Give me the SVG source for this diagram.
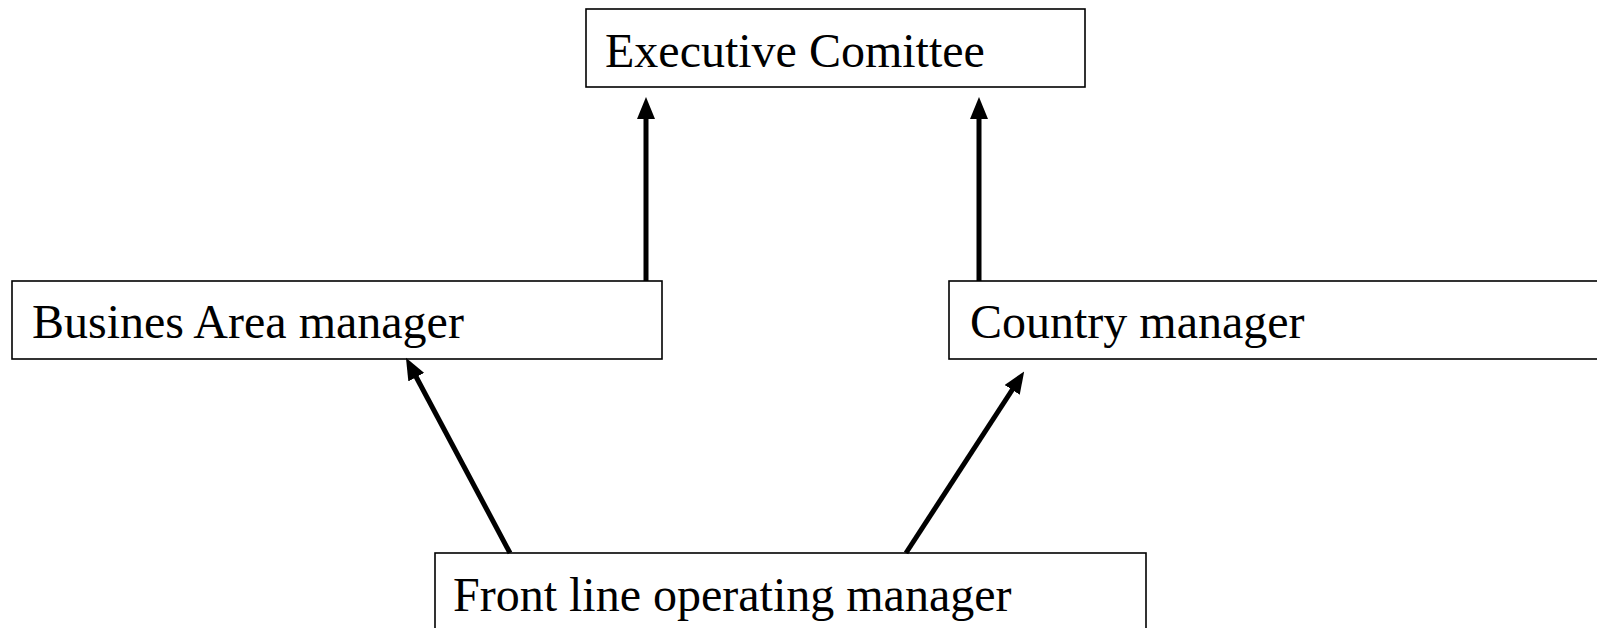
<svg xmlns="http://www.w3.org/2000/svg" width="1597" height="628" viewBox="0 0 1597 628">
<style>
.box{fill:#fff;stroke:#000;stroke-width:1.6}
.lbl{font-family:"Liberation Serif","Times New Roman",serif;font-size:48px;fill:#000}
.conn{stroke:#000;stroke-width:5;fill:none;marker-end:url(#arr)}
</style>
<defs>
<marker id="arr" markerUnits="userSpaceOnUse" markerWidth="22" markerHeight="18" refX="7" refY="9" orient="auto">
<path d="M0,0 L22,9 L0,18 z" fill="#000"/>
</marker>
</defs>
<rect width="1597" height="628" fill="#fff"/>
<g id="exec"><rect class="box" x="586" y="9" width="499" height="78"/><text class="lbl" x="605" y="67">Executive Comittee</text></g>
<g id="business"><rect class="box" x="12" y="281" width="650" height="78"/><text class="lbl" x="32" y="338">Busines Area manager</text></g>
<g id="country"><rect class="box" x="949" y="281" width="661" height="78"/><text class="lbl" x="970" y="338">Country manager</text></g>
<g id="frontline"><rect class="box" x="435" y="553" width="711" height="78"/><text class="lbl" x="453" y="611">Front line operating manager</text></g>
<g id="connectors">
<line class="conn" x1="646" y1="281" x2="646" y2="112"/>
<line class="conn" x1="979" y1="281" x2="979" y2="112"/>
<line class="conn" x1="510" y1="553" x2="413" y2="371"/>
<line class="conn" x1="906" y1="553" x2="1016" y2="384"/>
</g>
</svg>
